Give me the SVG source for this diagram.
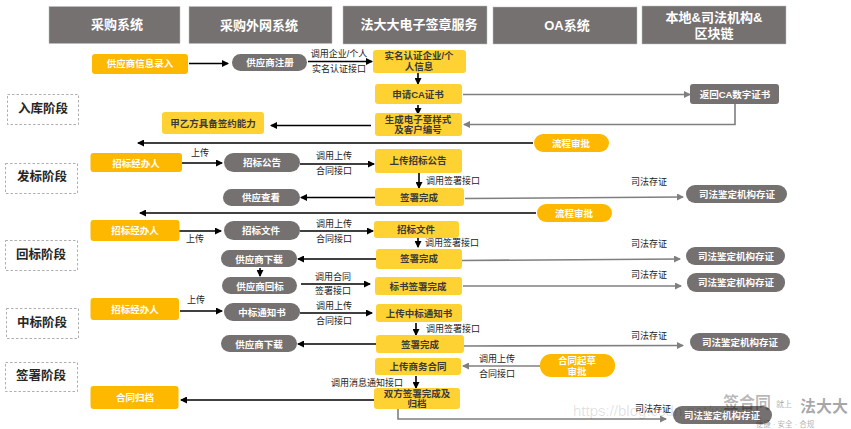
<svg xmlns="http://www.w3.org/2000/svg" width="851" height="429" viewBox="0 0 851 429">
<defs>
<marker id="ab" markerUnits="userSpaceOnUse" markerWidth="7" markerHeight="7" refX="6" refY="3.5" orient="auto"><path d="M0 0L7 3.5L0 7Z" fill="#000"/></marker>
<marker id="ag" markerUnits="userSpaceOnUse" markerWidth="7" markerHeight="7" refX="6" refY="3.5" orient="auto"><path d="M0 0L7 3.5L0 7Z" fill="#7f7f7f"/></marker>
</defs>
<style>
text{font-family:"Liberation Sans","Noto Sans CJK SC",sans-serif;text-anchor:middle;dominant-baseline:central}
.h rect{fill:#767171;stroke:#bfbfbf;stroke-width:.5}
.h text{fill:#fff;font-size:13px;font-weight:bold}
.s rect{fill:#fff;stroke:#9a9a9a;stroke-dasharray:2.5 2;stroke-width:.8}
.s text{fill:#262626;font-size:12.500px;font-weight:bold}
.o rect{fill:#ffb800}
.y rect{fill:#ffd233}
.g rect{fill:#767171}
.o text,.g text{fill:#fff;font-size:9.500px;font-weight:bold}
.y text{fill:#3a3a3a;font-size:9.500px;font-weight:bold}
.l{fill:#1a1a1a;font-size:9px}
.k{fill:none;stroke:#000;stroke-width:1.6}
.m{fill:none;stroke:#7f7f7f;stroke-width:1.6}
.kk{marker-end:url(#ab)}
.gg{marker-end:url(#ag)}
</style>
<g id="h1" class="h"><rect x="49" y="6.500" width="131" height="37"/><text x="117" y="24">采购系统</text></g>
<g id="h2" class="h"><rect x="189" y="6.500" width="143" height="37"/><text x="259" y="25">采购外网系统</text></g>
<g id="h3" class="h"><rect x="343" y="6" width="144" height="38"/><text x="419" y="24">法大大电子签章服务</text></g>
<g id="h4" class="h"><rect x="493" y="7" width="144" height="37"/><text x="567" y="25">OA系统</text></g>
<g id="h5" class="h"><rect x="642" y="6" width="144" height="38"/><text x="714" y="17">本地&amp;司法机构&amp;</text><text x="714" y="33">区块链</text></g>

<g id="s1" class="s"><rect x="7.500" y="94.500" width="71" height="30"/><text x="43" y="109">入库阶段</text></g>
<g id="s2" class="s"><rect x="5.500" y="163.500" width="72" height="30"/><text x="42" y="177">发标阶段</text></g>
<g id="s3" class="s"><rect x="5.500" y="240.500" width="72" height="30"/><text x="41" y="255">回标阶段</text></g>
<g id="s4" class="s"><rect x="6.500" y="308.500" width="72" height="30"/><text x="42" y="323">中标阶段</text></g>
<g id="s5" class="s"><rect x="5.500" y="362.500" width="72" height="29"/><text x="41" y="376">签署阶段</text></g>

<g id="connectors">
<path class="k kk" d="M189 63.500H228"/>
<path class="k kk" d="M308 61.500H372"/>
<path class="k kk" d="M418 72V84"/>
<path class="k kk" d="M418 105V114"/>
<path class="k kk" d="M371 125.500H271"/>
<path class="k kk" d="M533 143H138"/>
<path class="k kk" d="M182 163H222"/>
<path class="k kk" d="M300 164H374"/>
<path class="k kk" d="M419 172V188"/>
<path class="k kk" d="M375 197.500H301"/>
<path class="k kk" d="M536 213H140"/>
<path class="k kk" d="M179 231H221"/>
<path class="k kk" d="M300 231H373"/>
<path class="k kk" d="M418 238V247"/>
<path class="k kk" d="M376 259H298"/>
<path class="k kk" d="M260 268V276"/>
<path class="k kk" d="M301 284H370"/>
<path class="k kk" d="M180 311H222"/>
<path class="k kk" d="M300 313H372"/>
<path class="k kk" d="M416 323V335"/>
<path class="k kk" d="M376 344H298"/>
<path class="k kk" d="M416 376V388"/>
<path class="k kk" d="M374 400H181"/>
<path class="m gg" d="M463 94.500H690"/>
<path class="m gg" d="M735 104V124.500H464"/>
<path class="m gg" d="M465 198.500L683 197"/>
<path class="m gg" d="M462 260.500L680 259"/>
<path class="m gg" d="M463 286H681"/>
<path class="m gg" d="M463 346L683 345.500"/>
<path class="m gg" d="M540 366H463"/>
<path class="m gg" d="M398 409V419H666"/>
</g>

<g id="n1" class="o"><rect x="92" y="54" width="96" height="20" rx="3"/><text x="140" y="63.500">供应商信息录入</text></g>
<g id="n2" class="g"><rect x="232" y="54" width="75" height="17" rx="8.500"/><text x="270" y="62.500">供应商注册</text></g>
<g id="n3" class="y"><rect x="373" y="50" width="93" height="23" rx="3"/><text x="419" y="55.500">实名认证企业/个</text><text x="419" y="66">人信息</text></g>
<g id="n4" class="y"><rect x="375" y="84" width="87" height="20" rx="3"/><text x="418" y="94">申请CA证书</text></g>
<g id="n5" class="y"><rect x="375" y="113" width="87" height="23" rx="3"/><text x="418" y="119">生成电子章样式</text><text x="418" y="129.500">及客户编号</text></g>
<g id="n6" class="y"><rect x="162" y="112" width="102" height="22" rx="3"/><text x="213" y="123">甲乙方具备签约能力</text></g>
<g id="n7" class="g"><rect x="690" y="84" width="89" height="20" rx="3"/><text x="735" y="94">返回CA数字证书</text></g>
<g id="n8" class="o"><rect x="534" y="134" width="75" height="18" rx="9"/><text x="571" y="143">流程审批</text></g>
<g id="n9" class="o"><rect x="90.500" y="153" width="91.500" height="19" rx="3"/><text x="136" y="163">招标经办人</text></g>
<g id="n10" class="g"><rect x="224" y="153" width="76" height="19" rx="9.500"/><text x="262" y="162.500">招标公告</text></g>
<g id="n11" class="y"><rect x="375" y="149" width="87" height="24" rx="3"/><text x="418" y="160.500">上传招标公告</text></g>
<g id="n12" class="y"><rect x="375" y="188" width="89" height="18" rx="3"/><text x="419" y="197">签署完成</text></g>
<g id="n13" class="g"><rect x="223" y="189" width="77" height="17" rx="8.500"/><text x="261" y="197.500">供应查看</text></g>
<g id="n14" class="g"><rect x="686" y="185" width="101" height="18" rx="9"/><text x="737" y="194">司法鉴定机构存证</text></g>
<g id="n15" class="o"><rect x="537" y="204" width="75" height="18" rx="9"/><text x="574" y="213">流程审批</text></g>
<g id="n16" class="o"><rect x="90.500" y="220" width="89" height="21" rx="3"/><text x="135" y="230">招标经办人</text></g>
<g id="n17" class="g"><rect x="224" y="221" width="76" height="19" rx="9.500"/><text x="261" y="230">招标文件</text></g>
<g id="n18" class="y"><rect x="374" y="221" width="85" height="17" rx="3"/><text x="416" y="229.500">招标文件</text></g>
<g id="n19" class="y"><rect x="376" y="249" width="86" height="20" rx="3"/><text x="419" y="258.500">签署完成</text></g>
<g id="n20" class="g"><rect x="221" y="250" width="76" height="17" rx="8.500"/><text x="259" y="259">供应商下载</text></g>
<g id="n21" class="g"><rect x="222" y="277" width="75" height="17" rx="8.500"/><text x="260" y="286">供应商回标</text></g>
<g id="n22" class="y"><rect x="375" y="277" width="87" height="18" rx="3"/><text x="418" y="286">标书签署完成</text></g>
<g id="n23" class="g"><rect x="686" y="247" width="99" height="18" rx="9"/><text x="736" y="256">司法鉴定机构存证</text></g>
<g id="n24" class="g"><rect x="687" y="273" width="98" height="19" rx="9"/><text x="736" y="282">司法鉴定机构存证</text></g>
<g id="n25" class="o"><rect x="90.500" y="298" width="88.500" height="22" rx="3"/><text x="135" y="309">招标经办人</text></g>
<g id="n26" class="g"><rect x="224" y="303" width="76" height="18" rx="9"/><text x="262" y="312">中标通知书</text></g>
<g id="n27" class="y"><rect x="376" y="304" width="86" height="18" rx="3"/><text x="419" y="313">上传中标通知书</text></g>
<g id="n28" class="y"><rect x="376" y="335" width="88" height="18" rx="3"/><text x="420" y="344">签署完成</text></g>
<g id="n29" class="g"><rect x="221" y="335" width="76" height="17" rx="8.500"/><text x="259" y="344">供应商下载</text></g>
<g id="n30" class="g"><rect x="690" y="333" width="100" height="18" rx="9"/><text x="740" y="342">司法鉴定机构存证</text></g>
<g id="n31" class="y"><rect x="375" y="358" width="86" height="17" rx="3"/><text x="418" y="366.500">上传商务合同</text></g>
<g id="n32" class="o"><rect x="540" y="354" width="75" height="23" rx="11"/><text x="577" y="360.500">合同起草</text><text x="577" y="371">审批</text></g>
<g id="n33" class="o"><rect x="90.500" y="386" width="88" height="23" rx="3"/><text x="135" y="397.500">合同归档</text></g>
<g id="n34" class="y"><rect x="374" y="388" width="86" height="21" rx="3"/><text x="417" y="393.500">双方签署完成及</text><text x="417" y="403.500">归档</text></g>
<g id="n35" class="g"><rect x="673" y="406" width="99" height="18" rx="9"/><text x="722" y="415">司法鉴定机构存证</text></g>

<g id="labels">
<text class="l" x="339" y="54">调用企业/个人</text>
<text class="l" x="339" y="68.500">实名认证接口</text>
<text class="l" x="200" y="153">上传</text>
<text class="l" x="334" y="156">调用上传</text>
<text class="l" x="334" y="171">合同接口</text>
<text class="l" x="453" y="181">调用签署接口</text>
<text class="l" x="649" y="182">司法存证</text>
<text class="l" x="195" y="239">上传</text>
<text class="l" x="334" y="224">调用上传</text>
<text class="l" x="334" y="239">合同接口</text>
<text class="l" x="452" y="243">调用签署接口</text>
<text class="l" x="649" y="244">司法存证</text>
<text class="l" x="333" y="276.500">调用合同</text>
<text class="l" x="333" y="291">签署接口</text>
<text class="l" x="649" y="275">司法存证</text>
<text class="l" x="196" y="300">上传</text>
<text class="l" x="334" y="306">调用上传</text>
<text class="l" x="334" y="321">合同接口</text>
<text class="l" x="453" y="329">调用签署接口</text>
<text class="l" x="649" y="336">司法存证</text>
<text class="l" x="497" y="359">调用上传</text>
<text class="l" x="497" y="373.500">合同接口</text>
<text class="l" x="367" y="383">调用消息通知接口</text>
<text class="l" x="653" y="409">司法存证</text>
</g>
<g id="watermark">
<text x="573" y="410" style="font-size:15px;fill:#000;fill-opacity:.13;text-anchor:start">https://blog.csdn.net/weixin_</text>
<text x="747" y="402" style="font-size:16px;font-weight:bold;fill:#000;fill-opacity:.28">签合同</text>
<text x="784" y="404" style="font-size:8px;fill:#000;fill-opacity:.35">就上</text>
<text x="824" y="406" style="font-size:16px;font-weight:bold;fill:#000;fill-opacity:.35">法大大</text>
<text x="785" y="424" style="font-size:7.500px;fill:#000;fill-opacity:.35">便捷 · 安全 · 合规</text>
</g>
</svg>
